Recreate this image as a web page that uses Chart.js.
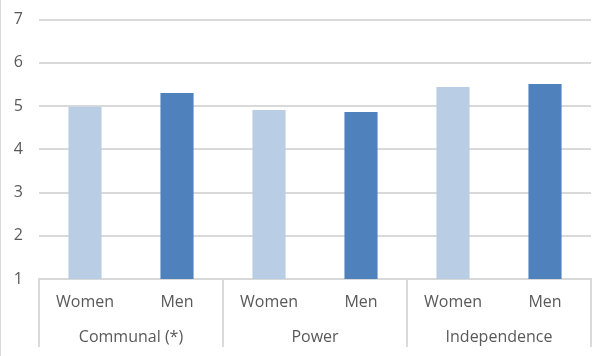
<!DOCTYPE html>
<html>
<head>
<meta charset="utf-8">
<script src="https://cdn.jsdelivr.net/npm/chart.js@4/dist/chart.umd.min.js"></script>
<style>
  html, body { margin: 0; padding: 0; background: #fff; }
  #wrap { position: relative; width: 611px; height: 356px; box-sizing: border-box; border-left: 1px solid #d9d9d9; }
  canvas { display: block; }
</style>
</head>
<body>
<div id="wrap"><canvas id="c" width="610" height="356"></canvas></div>
<script>
const groups = ['Communal (*)', 'Power', 'Independence'];
const sexes = ['Women', 'Men'];
const women = [4.98, 4.91, 5.44];
const men = [5.30, 4.86, 5.51];
const yTicks = [1, 2, 3, 4, 5, 6, 7];
const colors = { Women: '#B9CDE5', Men: '#4F81BD' };

const labels = [];
const values = [];
const barColors = [];
groups.forEach((g, i) => {
  labels.push(sexes[0]); values.push(women[i]); barColors.push(colors[sexes[0]]);
  labels.push(sexes[1]); values.push(men[i]); barColors.push(colors[sexes[1]]);
});

const FONT = { family: '"Open Sans", sans-serif', size: 16 };
const TEXT = '#595959';
const GRID = '#d9d9d9';

const separators = {
  id: 'separators',
  afterDraw(chart) {
    const x = chart.scales.x, x2 = chart.scales.x2;
    const ctx = chart.ctx;
    const xs = [chart.chartArea.left];
    for (let i = 1; i < groups.length; i++) {
      xs.push((x.getPixelForTick(2 * i - 1) + x.getPixelForTick(2 * i)) / 2);
    }
    xs.push(chart.chartArea.right);
    ctx.save();
    ctx.strokeStyle = GRID;
    ctx.lineWidth = 2;
    xs.forEach(px => {
      const p = Math.round(px);
      ctx.beginPath();
      ctx.moveTo(p, chart.chartArea.bottom);
      ctx.lineTo(p, x2.bottom - 9);
      ctx.stroke();
    });
    ctx.restore();
  }
};

new Chart(document.getElementById('c'), {
  type: 'bar',
  data: {
    labels: labels,
    datasets: [{
      data: values,
      backgroundColor: barColors,
      borderWidth: 0,
      categoryPercentage: 1,
      barPercentage: 0.36
    }]
  },
  options: {
    responsive: false,
    animation: false,
    layout: { padding: { top: 19.5, right: 20, bottom: 0, left: 0 } },
    plugins: { legend: { display: false }, tooltip: { enabled: false } },
    scales: {
      y: {
        min: 1, max: 7,
        afterBuildTicks: s => { s.ticks = yTicks.map(v => ({ value: v })); },
        afterFit: s => { s.width = 38; s.paddingTop = 0; s.paddingBottom = 0; },
        ticks: { color: TEXT, font: FONT, padding: 16 },
        grid: { color: GRID, lineWidth: 2, drawTicks: false },
        border: { display: false }
      },
      x: {
        position: 'bottom',
        afterFit: s => { s.height = 40; s.paddingLeft = 0; s.paddingRight = 0; },
        ticks: { color: TEXT, font: FONT, padding: 6, maxRotation: 0, autoSkip: false },
        grid: { display: false },
        border: { display: true, color: GRID, width: 2 }
      },
      x2: {
        type: 'category',
        position: 'bottom',
        labels: groups,
        afterFit: s => { s.height = 37; s.paddingLeft = 0; s.paddingRight = 0; },
        ticks: { color: TEXT, font: FONT, padding: 9, maxRotation: 0, autoSkip: false },
        grid: { display: false, drawTicks: false },
        border: { display: false }
      }
    }
  },
  plugins: [separators]
});
</script>
</body>
</html>
